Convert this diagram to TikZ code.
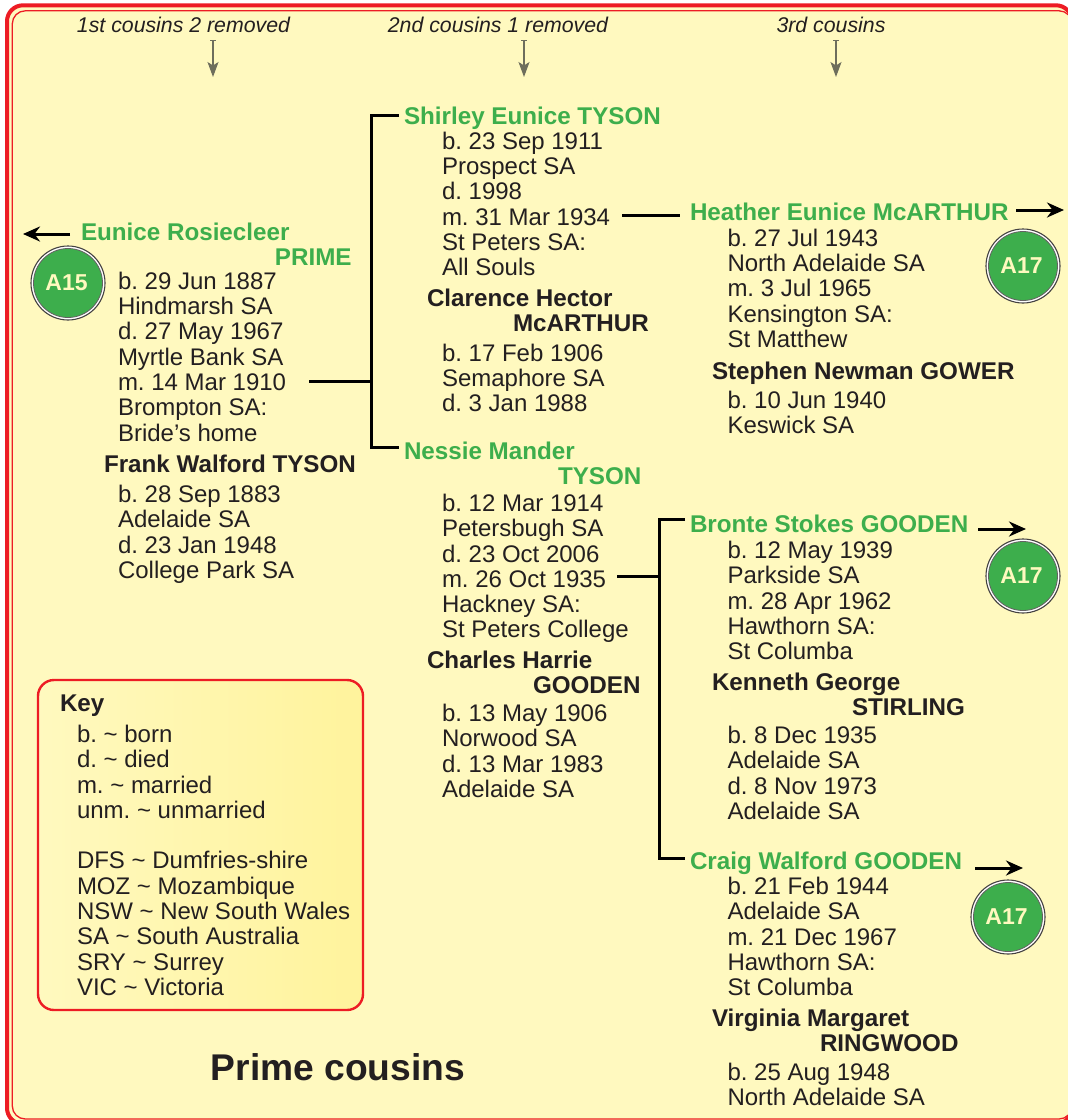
\documentclass[tikz,border=0pt]{standalone}
\usepackage{fontspec}
\setmainfont{Liberation Sans}
\usetikzlibrary{arrows.meta}
\definecolor{ink}{HTML}{231F20}
\definecolor{paper}{HTML}{FFF9BF}
\definecolor{keyright}{HTML}{FFF39C}
\definecolor{kin}{HTML}{3DAE4C}
\definecolor{frame}{HTML}{ED1C24}
\definecolor{pointer}{HTML}{6E6E5C}
\tikzset{
  txt/.style={inner sep=0pt,outer sep=0pt,anchor=north west,align=left,text=ink,font=\fontsize{24}{25.3}\selectfont\frenchspacing},
  kinname/.style={txt,text=kin,font=\fontsize{24.2}{24.5}\selectfont\bfseries\frenchspacing},
  spouse/.style={txt,font=\fontsize{24.2}{24.5}\selectfont\bfseries\frenchspacing},
  gen/.style={inner sep=0pt,outer sep=0pt,anchor=center,text=ink,font=\fontsize{21.3}{24}\selectfont\itshape},
  link/.style={draw=black,line width=3pt},
  off/.style={draw=black,line width=3pt,-{Stealth[length=17pt,width=15pt]}},
  down/.style={draw=pointer,line width=1.3pt,{Bar[width=6pt,length=1pt]}-{Stealth[length=15pt,width=11pt,inset=3.5pt]}},
  tag/.style={circle,minimum size=69pt,inner sep=0pt,fill=kin,draw=ink!70,line width=0.8pt,text=paper,font=\fontsize{23}{24}\selectfont\bfseries},
  ring/.style={circle,minimum size=74pt,inner sep=0pt,draw=ink!85,line width=1.1pt,fill=white},
}
\begin{document}
\begin{tikzpicture}[x=1pt,y=-1pt]
\useasboundingbox (0,0) rectangle (1068,1120);
% frame
\fill[white] (0,0) rectangle (1068,1120);
\begin{scope}
\clip (0,0) rectangle (1068,1120);
\draw[frame,fill=paper,line width=4pt,rounded corners=16pt] (7,5.3) rectangle (1072,1124);
\draw[frame,line width=1.3pt,rounded corners=13pt] (12.3,10.8) rectangle (1072,1119);
\end{scope}
% generation captions
\node[gen] (g1) at (183.5,25) {1st cousins 2 removed};
\node[gen] (g2) at (498,25) {2nd cousins 1 removed};
\node[gen] (g3) at (831,25) {3rd cousins};
\coordinate (g1a) at (213,40); \coordinate (g1b) at (213,77);
\coordinate (g2a) at (524,40); \coordinate (g2b) at (524,77);
\coordinate (g3a) at (836,40); \coordinate (g3b) at (836,77);
\draw[down] (g1a) -- (g1b);
\draw[down] (g2a) -- (g2b);
\draw[down] (g3a) -- (g3b);
% column 1
\node[kinname] (eunice) at (81,223) {Eunice Rosiecleer\\\hspace*{194pt}PRIME};
\node[txt] (eunicedata) at (118,272) {b. 29 Jun 1887\\Hindmarsh SA\\d. 27 May 1967\\Myrtle Bank SA\\m. 14 Mar 1910\\Brompton SA:\\Bride's home};
\node[spouse] (frank) at (104,455) {Frank Walford TYSON};
\node[txt] (frankdata) at (118,485) {b. 28 Sep 1883\\Adelaide SA\\d. 23 Jan 1948\\College Park SA};
% column 2
\node[kinname] (shirley) at (404,107) {Shirley Eunice TYSON};
\node[txt] (shirleydata) at (442,132) {b. 23 Sep 1911\\Prospect SA\\d. 1998\\m. 31 Mar 1934\\St Peters SA:\\All Souls};
\node[spouse] (clarence) at (427,289) {Clarence Hector\\\hspace*{86pt}McARTHUR};
\node[txt] (clarencedata) at (442,344) {b. 17 Feb 1906\\Semaphore SA\\d. 3 Jan 1988};
\node[kinname] (nessie) at (404,442) {Nessie Mander\\\hspace*{154pt}TYSON};
\node[txt] (nessiedata) at (442,494) {b. 12 Mar 1914\\Petersbugh SA\\d. 23 Oct 2006\\m. 26 Oct 1935\\Hackney SA:\\St Peters College};
\node[spouse] (charles) at (427,651) {Charles Harrie\\\hspace*{106pt}GOODEN};
\node[txt] (charlesdata) at (442,704) {b. 13 May 1906\\Norwood SA\\d. 13 Mar 1983\\Adelaide SA};
% column 3
\node[kinname] (heather) at (690,203) {Heather Eunice McARTHUR};
\node[txt] (heatherdata) at (727.5,229) {b. 27 Jul 1943\\North Adelaide SA\\m. 3 Jul 1965\\Kensington SA:\\St Matthew};
\node[spouse] (stephen) at (712,362) {Stephen Newman GOWER};
\node[txt] (stephendata) at (727.5,391) {b. 10 Jun 1940\\Keswick SA};
\node[kinname] (bronte) at (690,515) {Bronte Stokes GOODEN};
\node[txt] (brontedata) at (727.5,541) {b. 12 May 1939\\Parkside SA\\m. 28 Apr 1962\\Hawthorn SA:\\St Columba};
\node[spouse] (kenneth) at (712,673) {Kenneth George\\\hspace*{140pt}STIRLING};
\node[txt] (kennethdata) at (727.5,726) {b. 8 Dec 1935\\Adelaide SA\\d. 8 Nov 1973\\Adelaide SA};
\node[kinname] (craig) at (690,852) {Craig Walford GOODEN};
\node[txt] (craigdata) at (727.5,877) {b. 21 Feb 1944\\Adelaide SA\\m. 21 Dec 1967\\Hawthorn SA:\\St Columba};
\node[spouse] (virginia) at (712,1009) {Virginia Margaret\\\hspace*{108pt}RINGWOOD};
\node[txt] (virginiadata) at (727.5,1063) {b. 25 Aug 1948\\North Adelaide SA};
% connectors
\coordinate (m1) at (309,381); \coordinate (j1) at (371,381);
\coordinate (s1) at (399,115); \coordinate (s2) at (399,447);
\draw[link] (m1) -- (j1);
\draw[link] (s1) -| (j1) |- (s2);
\coordinate (m2) at (622,215); \coordinate (h1) at (680,215);
\draw[link] (m2) -- (h1);
\coordinate (m3) at (617,576); \coordinate (j3) at (659,576);
\coordinate (b1) at (685,519); \coordinate (b2) at (685,858);
\draw[link] (m3) -- (j3);
\draw[link] (b1) -| (j3) |- (b2);
% off-page arrows
\coordinate (a0a) at (70,234); \coordinate (a0b) at (23,234);
\coordinate (a1a) at (1016,210); \coordinate (a1b) at (1064,210);
\coordinate (a2a) at (978,529); \coordinate (a2b) at (1026,529);
\coordinate (a3a) at (975,868); \coordinate (a3b) at (1023,868);
\draw[off] (a0a) -- (a0b);
\draw[off] (a1a) -- (a1b);
\draw[off] (a2a) -- (a2b);
\draw[off] (a3a) -- (a3b);
% circular tags
\node[ring] (r15) at (68,283) {};
\node[tag] (t15) at (68,283) {A15\kern3pt};
\node[ring] (r17a) at (1023,266) {};
\node[tag] (t17a) at (1023,266) {A17\kern3pt};
\node[ring] (r17b) at (1023,576) {};
\node[tag] (t17b) at (1023,576) {A17\kern3pt};
\node[ring] (r17c) at (1008,917) {};
\node[tag] (t17c) at (1008,917) {A17\kern3pt};
% key
\draw[frame,line width=2.4pt,rounded corners=16pt,left color=paper,right color=keyright] (38,680) rectangle (363,1010);
\node[spouse] (keyhead) at (60,695) {Key};
\node[txt] (keybody) at (77,725) {b. \textasciitilde{} born\\d. \textasciitilde{} died\\m. \textasciitilde{} married\\unm. \textasciitilde{} unmarried\\[25.3pt]DFS \textasciitilde{} Dumfries-shire\\MOZ \textasciitilde{} Mozambique\\NSW \textasciitilde{} New South Wales\\SA \textasciitilde{} South Australia\\SRY \textasciitilde{} Surrey\\VIC \textasciitilde{} Victoria};
\node[inner sep=0pt,anchor=center,text=ink,font=\fontsize{37.2}{40}\selectfont\bfseries] (title) at (338,1067) {Prime cousins};
\end{tikzpicture}
\end{document}
